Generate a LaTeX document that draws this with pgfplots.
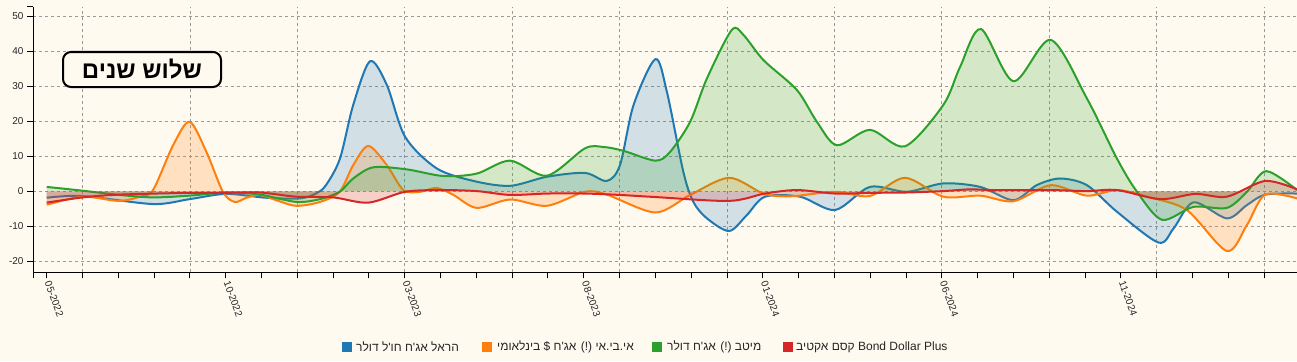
\documentclass[border=0pt]{standalone}
\usepackage{fontspec}
\setmainfont{Liberation Sans}
\newfontfamily\hebfont[Script=Hebrew]{Liberation Sans}
\TeXXeTstate=1
\usepackage{pgfplots}
\usepackage{pgfplotstable}
\pgfplotsset{compat=1.18}
\definecolor{bg}{HTML}{FFFAF0}
\definecolor{c1}{HTML}{1F77B4}
\definecolor{c2}{HTML}{FF7F0E}
\definecolor{c3}{HTML}{2CA02C}
\definecolor{c4}{HTML}{D62728}
\definecolor{gridc}{HTML}{9A9A9A}

% x = months since 05-2022, y = value
\pgfplotstableread{
x y
0.00 -1.8
1.01 -1.3
2.97 -3.6
3.99 -2.2
5.01 -0.7
6.13 -1.8
7.07 -2.0
7.52 -0.6
7.80 1.8
8.19 9.4
8.56 24.7
9.03 37.2
9.50 30.4
10.01 15.6
10.89 6.6
11.92 3.0
12.94 1.6
13.97 4.2
15.03 5.3
15.64 3.0
16.01 7.5
16.39 24.7
17.00 37.8
17.32 28.5
17.78 5.6
18.06 -3.0
18.44 -7.7
19.06 -11.3
19.55 -6.8
20.06 -1.5
21.04 -1.5
22.02 -5.3
22.99 1.3
24.02 -0.1
25.04 2.3
26.07 1.3
27.00 -2.5
27.65 1.8
28.30 3.7
29.05 1.8
29.89 -5.8
31.05 -14.6
31.47 -10.6
32.03 -3.1
32.96 -7.7
33.52 -3.9
34.03 -0.9
34.92 -0.6
}\harel

\pgfplotstableread{
x y
0.00 -3.8
1.01 -1.5
2.00 -2.7
2.60 -1.5
2.97 0.4
3.53 13.2
3.99 19.9
4.46 11.3
4.92 -0.1
5.25 -3.0
5.58 -1.8
5.95 -1.0
6.41 -2.5
6.97 -4.1
7.63 -3.0
8.18 -0.1
8.56 7.5
8.98 13.0
9.50 7.5
9.96 0.4
10.43 -0.1
10.89 1.0
11.36 -1.0
12.01 -4.7
12.94 -2.3
13.97 -4.1
15.03 -0.1
15.64 -0.9
17.00 -6.0
17.97 -1.0
19.06 3.9
20.02 -0.6
20.76 -1.4
22.02 -0.1
22.99 -1.3
23.97 3.9
25.04 -1.5
26.07 -1.2
27.00 -2.8
28.04 1.8
29.05 -1.2
29.89 0.4
30.73 -1.5
31.84 -5.3
32.96 -17.0
33.52 -9.6
34.03 -0.9
34.92 -2.0
}\ibi

\pgfplotstableread{
x y
0.00 1.3
1.01 0.2
2.04 -1.0
2.97 -1.7
3.99 -1.2
5.02 -0.3
5.95 -0.9
6.97 -3.0
7.63 -2.2
8.18 -0.1
8.56 3.7
9.12 6.9
10.06 6.3
11.08 4.4
12.01 5.1
12.94 8.8
13.97 4.5
15.03 12.3
15.55 12.7
16.11 11.6
17.00 8.8
17.41 11.3
17.97 19.9
18.44 32.3
19.13 46.1
19.46 44.7
20.02 37.5
20.95 29.0
21.51 19.9
22.07 13.2
22.99 17.6
23.97 12.9
25.04 24.7
25.51 35.6
26.09 46.4
27.00 31.5
28.04 43.3
29.05 26.6
29.89 9.4
30.45 -0.1
31.15 -8.1
32.03 -4.4
32.96 -4.7
33.52 -0.1
34.06 5.8
34.92 0.4
}\meitav

\pgfplotstableread{
x y
0.00 -3.2
1.01 -1.7
2.04 -0.9
3.99 -0.4
5.02 -0.4
5.95 -0.3
6.97 -1.5
8.00 -1.7
8.98 -3.2
10.01 -0.1
10.99 0.4
12.01 0.1
12.94 -1.0
13.97 -0.6
15.03 -0.6
16.01 -1.0
17.00 -1.6
19.06 -2.7
20.06 -0.6
20.95 0.4
22.02 -0.6
22.99 -0.4
24.02 -0.3
25.04 0.1
25.79 0.6
26.44 0.4
28.04 0.4
29.05 0.1
29.89 0.4
31.10 -2.2
32.08 -0.7
32.96 -1.5
34.03 3.0
34.92 0.6
}\kesem

\begin{document}
\begin{tikzpicture}[x=1bp,y=1bp]
\path[use as bounding box, fill=bg] (0,0) rectangle (1297,361);
\begin{axis}[
  at={(33bp,88.7bp)}, anchor=south west,
  scale only axis, width=1264bp, height=265.3bp,
  xmin=-0.383, xmax=34.92, ymin=-23.1, ymax=52.7,
  axis x line*=bottom, axis y line*=left,
  axis line style={-, line width=1bp, black},
  tick align=outside,
  major tick length=6bp, minor tick length=6bp,
  every tick/.style={black, line width=1bp},
  xtick={0,5,10,15,20,25,30},
  xticklabels={05-2022,10-2022,03-2023,08-2023,01-2024,06-2024,11-2024},
  minor xtick={-0.383,1,2,3,4,6,7,8,9,11,12,13,14,16,17,18,19,21,22,23,24,26,27,28,29,31,32,33,34,34.92},
  extra x ticks={1,4,7,10,13,16,19,22,25,28,31,34},
  extra x tick labels={},
  extra x tick style={grid=major, major tick length=0pt},
  ytick={-20,-10,0,10,20,30,40,50},
  yticklabels={-20,-10,0,10,20,30,40,50},
  extra y ticks={52.7}, extra y tick labels={},
  extra y tick style={grid=none},
  ymajorgrids,
  grid style={gridc, dash pattern=on 3bp off 3bp, line width=0.8bp},
  xticklabel style={rotate=-70, anchor=west, font=\fontsize{10bp}{12bp}\selectfont, text=black!85},
  yticklabel style={font=\fontsize{10bp}{12bp}\selectfont, text=black!85},
  every axis plot/.append style={smooth, line width=2bp},
]
\addplot[draw=none, fill=c1, fill opacity=0.2] table[x=x,y=y]{\harel} \closedcycle;
\addplot[c1] table[x=x,y=y]{\harel};
\addplot[draw=none, fill=c2, fill opacity=0.2] table[x=x,y=y]{\ibi} \closedcycle;
\addplot[c2] table[x=x,y=y]{\ibi};
\addplot[draw=none, fill=c3, fill opacity=0.2] table[x=x,y=y]{\meitav} \closedcycle;
\addplot[c3] table[x=x,y=y]{\meitav};
\addplot[draw=none, fill=c4, fill opacity=0.2] table[x=x,y=y]{\kesem} \closedcycle;
\addplot[c4] table[x=x,y=y]{\kesem};
\end{axis}
% title box
\draw[line width=2bp, rounded corners=8bp, fill=bg] (63,274) rectangle (221,309);
\node[font=\hebfont\bfseries\fontsize{24bp}{28bp}\selectfont, inner sep=0pt] at (142,291.5) {\beginR שלוש שנים\endR};
% legend
\begin{scope}[every node/.style={anchor=west, inner sep=0pt, font=\hebfont\fontsize{12bp}{14bp}\selectfont, text=black!85}]
\fill[c1] (342,9) rectangle (352,19);
\node at (356,14) {\beginR הראל אג'ח חו'ל דולר\endR};
\fill[c2] (482,9) rectangle (492,19);
\node at (497,14) {\beginR אי.בי.אי (!) אג'ח \$ בינלאומי\endR};
\fill[c3] (652,9) rectangle (662,19);
\node at (667,14) {\beginR מיטב (!) אג'ח דולר\endR};
\fill[c4] (783,9) rectangle (793,19);
\node at (796,14) {\beginR קסם אקטיב\endR{} Bond Dollar Plus};
\end{scope}
\end{tikzpicture}
\end{document}
